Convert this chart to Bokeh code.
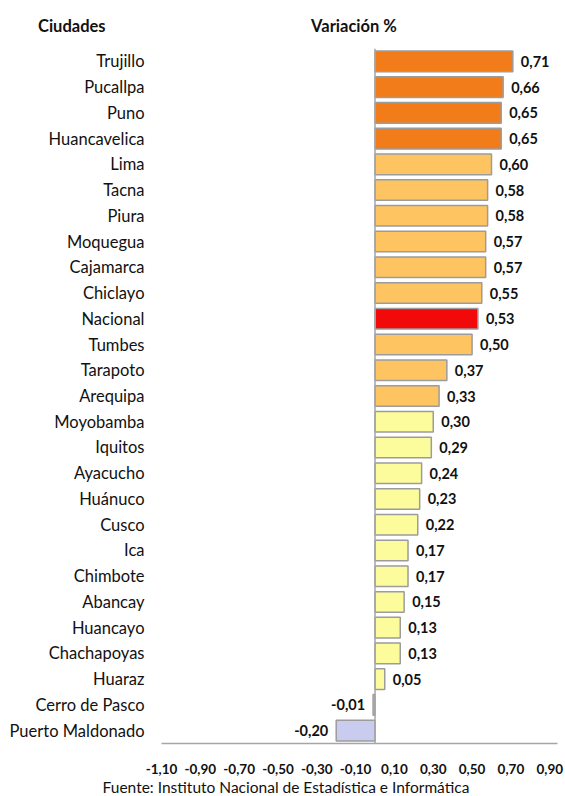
from bokeh.plotting import figure
from bokeh.layouts import column
from bokeh.models import FixedTicker, Span, ColumnDataSource, Range1d, Div
from bokeh.embed import file_html
from bokeh.resources import INLINE
from bokeh.core.properties import value

ciudades = ["Trujillo", "Pucallpa", "Puno", "Huancavelica", "Lima", "Tacna", "Piura",
            "Moquegua", "Cajamarca", "Chiclayo", "Nacional", "Tumbes", "Tarapoto",
            "Arequipa", "Moyobamba", "Iquitos", "Ayacucho", "Huánuco", "Cusco", "Ica",
            "Chimbote", "Abancay", "Huancayo", "Chachapoyas", "Huaraz", "Cerro de Pasco",
            "Puerto Maldonado"]
variacion = [0.71, 0.66, 0.65, 0.65, 0.60, 0.58, 0.58, 0.57, 0.57, 0.55, 0.53, 0.50,
             0.37, 0.33, 0.30, 0.29, 0.24, 0.23, 0.22, 0.17, 0.17, 0.15, 0.13, 0.13,
             0.05, -0.01, -0.20]
x_ticks = [-1.10, -0.90, -0.70, -0.50, -0.30, -0.10, 0.10, 0.30, 0.50, 0.70, 0.90]
titulo_eje_y = "Ciudades"
titulo_eje_x = "Variación %"
fuente = "Fuente: Instituto Nacional de Estadística e Informática"

FONT = "Lato"
TXT = "#111111"
W = 565

def fmt(v):
    return f"{v:.2f}".replace(".", ",")

def color_for(name, v):
    if name == "Nacional":
        return "#F20A0A"
    if v < 0:
        return "#C9CCEE"
    if v >= 0.65:
        return "#F27C1A"
    if v > 0.30:
        return "#FFC462"
    return "#FCFC9C"

# ---- header (HTML text) ----
span_css = ("position:absolute;white-space:nowrap;font-family:Lato;color:%s;"
            "font-weight:bold;font-size:16.5px;line-height:16px;top:18px;" % TXT)
head_html = (
    '<div style="position:relative;width:%dpx;height:48px;margin:0;padding:0;">' % W
    + '<span style="%sleft:38px;">%s</span>' % (span_css, titulo_eje_y)
    + '<span style="%sleft:354px;transform:translateX(-50%%);">%s</span>' % (span_css, titulo_eje_x)
    + '</div>'
)
head = Div(text=head_html, width=W, height=48, margin=0)

# ---- main chart ----
n = len(ciudades)
ys = [n - 1 - i for i in range(n)]
colors = [color_for(c, v) for c, v in zip(ciudades, variacion)]
labels = [fmt(v) for v in variacion]

src = ColumnDataSource(dict(y=ys, v=variacion, c=colors, lab=labels))
pos = ColumnDataSource(dict(y=[y for y, v in zip(ys, variacion) if v >= 0],
                            v=[v for v in variacion if v >= 0],
                            lab=[l for l, v in zip(labels, variacion) if v >= 0]))
neg = ColumnDataSource(dict(y=[y for y, v in zip(ys, variacion) if v < 0],
                            v=[v for v in variacion if v < 0],
                            lab=[l for l, v in zip(labels, variacion) if v < 0]))

p = figure(width=W, height=728, output_backend="svg", toolbar_location=None,
           x_range=Range1d(-1.10, 0.94), y_range=Range1d(-0.5, n - 0.5),
           min_border_left=161, min_border_right=8, min_border_top=0, min_border_bottom=33)
p.outline_line_color = None
p.grid.visible = False
p.background_fill_color = "white"
p.border_fill_color = "white"

p.hbar(y="y", left=0, right="v", height=0.8, fill_color="c", line_color="#9C9C9C",
       line_width=1.5, source=src)

p.add_layout(Span(location=0, dimension="height", line_color="#A6A6A6", line_width=1.5))

p.text(x="v", y="y", text="lab", source=pos, x_offset=8, text_align="left",
       text_baseline="middle", text_font=value(FONT), text_font_style="bold",
       text_font_size="14.5px", text_color=TXT)
p.text(x="v", y="y", text="lab", source=neg, x_offset=-8, text_align="right",
       text_baseline="middle", text_font=value(FONT), text_font_style="bold",
       text_font_size="14.5px", text_color=TXT)

xa = p.xaxis[0]
xa.ticker = FixedTicker(ticks=x_ticks)
xa.major_label_overrides = {t: fmt(t) for t in x_ticks}
xa.major_tick_line_color = None
xa.minor_tick_line_color = None
xa.axis_line_color = "#A6A6A6"
xa.axis_line_width = 1.5
xa.major_label_standoff = 14
xa.major_label_text_font = FONT
xa.major_label_text_font_style = "bold"
xa.major_label_text_font_size = "13.5px"
xa.major_label_text_color = TXT

ya = p.yaxis[0]
ya.ticker = FixedTicker(ticks=ys)
ya.major_label_overrides = {y: c for y, c in zip(ys, ciudades)}
ya.major_tick_line_color = None
ya.minor_tick_line_color = None
ya.axis_line_color = None
ya.major_label_standoff = 11
ya.major_label_text_font = FONT
ya.major_label_text_font_size = "16.5px"
ya.major_label_text_color = TXT

# ---- footer (HTML text) ----
foot_html = (
    '<div style="position:relative;width:%dpx;height:20px;margin:0;padding:0;">' % W
    + '<span style="position:absolute;white-space:nowrap;font-family:Lato;color:%s;'
      'font-size:15.5px;line-height:16px;top:3px;left:286px;transform:translateX(-50%%);">%s</span>'
      % (TXT, fuente)
    + '</div>'
)
foot = Div(text=foot_html, width=W, height=20, margin=0)

layout = column(head, p, foot, spacing=0)
open("out.html", "w").write(file_html(layout, INLINE))
